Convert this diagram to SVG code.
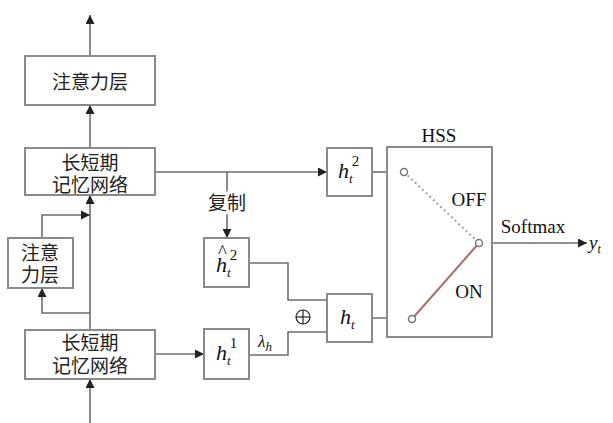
<svg xmlns="http://www.w3.org/2000/svg" width="613" height="423" viewBox="0 0 613 423">
<defs>
<marker id="arr" viewBox="0 0 10 10" refX="10" refY="5" markerWidth="9" markerHeight="9" markerUnits="userSpaceOnUse" orient="auto">
<path d="M0,0 L10,5 L0,10 z" fill="#222"/>
</marker>
<style>
.box{fill:#fff;stroke:#8a8a8a;stroke-width:2}
.ln{fill:none;stroke:#6e6e6e;stroke-width:1.6}
.cn{font-family:"Noto Sans CJK SC","Noto Sans",sans-serif;font-size:19px;fill:#222;text-anchor:middle}
.tm{font-family:"Liberation Serif",serif;font-size:19px;fill:#111}
.it{font-family:"Liberation Serif",serif;font-style:italic;fill:#111}
.sw{fill:#fff;stroke:#777;stroke-width:1.5}
</style>
</defs>
<rect width="613" height="423" fill="#fff"/>
<g id="connectors">
<line class="ln" x1="90" y1="56" x2="90" y2="15" marker-end="url(#arr)"/>
<line class="ln" x1="90" y1="148" x2="90" y2="105" marker-end="url(#arr)"/>
<line class="ln" x1="90" y1="330" x2="90" y2="195" marker-end="url(#arr)"/>
<line class="ln" x1="90" y1="423" x2="90" y2="379" marker-end="url(#arr)"/>
<polyline class="ln" points="90,313 42,313 42,288" marker-end="url(#arr)"/>
<polyline class="ln" points="42,238 42,215 90,215" marker-end="url(#arr)"/>
<line class="ln" x1="155" y1="172" x2="327" y2="172" marker-end="url(#arr)"/>
<line class="ln" x1="227" y1="172" x2="227" y2="238" marker-end="url(#arr)"/>
<line class="ln" x1="155" y1="354" x2="204" y2="354" marker-end="url(#arr)"/>
<polyline class="ln" points="249,263 288,263 288,300 327,300"/>
<polyline class="ln" points="249,355 288,355 288,332 327,332"/>
<line class="ln" x1="372" y1="172" x2="401" y2="172"/>
<line class="ln" x1="372" y1="318" x2="409" y2="318"/>
<line class="ln" x1="482" y1="243" x2="587" y2="243" marker-end="url(#arr)"/>
</g>
<g id="attn-top">
<rect class="box" x="25" y="56" width="130" height="49"/>
<text class="cn" x="90" y="89">注意力层</text>
</g>
<g id="lstm-top">
<rect class="box" x="25" y="148" width="130" height="47"/>
<text class="cn" x="90" y="170">长短期</text>
<text class="cn" x="90" y="192">记忆网络</text>
</g>
<g id="attn-small">
<rect class="box" x="8" y="238" width="65" height="50"/>
<text class="cn" x="40" y="260">注意</text>
<text class="cn" x="40" y="282">力层</text>
</g>
<g id="lstm-bottom">
<rect class="box" x="25" y="330" width="130" height="49"/>
<text class="cn" x="90" y="350">长短期</text>
<text class="cn" x="90" y="373">记忆网络</text>
</g>
<g id="copy-label">
<text class="cn" x="227" y="210" style="fill:#fff;stroke:#fff;stroke-width:6">复制</text>
<text class="cn" x="227" y="210">复制</text>
</g>
<g id="h2">
<rect class="box" x="327" y="148" width="45" height="48"/>
<text class="it" x="338" y="178" font-size="22">h<tspan font-size="13" dy="5">t</tspan><tspan font-style="normal" font-size="15" dx="-1" dy="-17">2</tspan></text>
</g>
<g id="h2hat">
<rect class="box" x="204" y="238" width="45" height="49"/>
<text class="tm" x="218" y="258" font-size="15">^</text>
<text class="it" x="216" y="272" font-size="22">h<tspan font-size="13" dy="5">t</tspan><tspan font-style="normal" font-size="15" dx="-1" dy="-17">2</tspan></text>
</g>
<g id="h1">
<rect class="box" x="204" y="329" width="45" height="50"/>
<text class="it" x="216" y="360" font-size="22">h<tspan font-size="13" dy="5">t</tspan><tspan font-style="normal" font-size="15" dx="-1" dy="-17">1</tspan></text>
</g>
<g id="lambda">
<text class="it" x="258" y="347" font-size="17">λ<tspan font-size="13" dy="4">h</tspan></text>
</g>
<g id="oplus">
<circle cx="303" cy="317" r="7" fill="none" stroke="#222" stroke-width="1.2"/>
<line x1="296" y1="317" x2="310" y2="317" stroke="#222" stroke-width="1.2"/>
<line x1="303" y1="310" x2="303" y2="324" stroke="#222" stroke-width="1.2"/>
</g>
<g id="ht">
<rect class="box" x="327" y="294" width="45" height="48"/>
<text class="it" x="340" y="324" font-size="22">h<tspan font-size="13" dy="5">t</tspan></text>
</g>
<g id="hss">
<rect class="box" x="387" y="147" width="105" height="190"/>
<text class="tm" x="439" y="142" text-anchor="middle">HSS</text>
<line x1="404" y1="172" x2="479" y2="243" stroke="#a0a0a0" stroke-width="2" stroke-dasharray="2,3"/>
<line x1="412" y1="319" x2="479" y2="243" stroke="#b06a6a" stroke-width="2"/>
<circle class="sw" cx="404" cy="172" r="3.5"/>
<circle class="sw" cx="412" cy="319" r="3.5"/>
<circle class="sw" cx="479" cy="243" r="3.5"/>
<text class="tm" x="469" y="206" text-anchor="middle">OFF</text>
<text class="tm" x="469" y="298" text-anchor="middle">ON</text>
</g>
<g id="softmax">
<text class="tm" x="533" y="233" text-anchor="middle">Softmax</text>
<text class="it" x="589" y="249" font-size="19">y<tspan font-size="12" dy="4">t</tspan></text>
</g>
</svg>
